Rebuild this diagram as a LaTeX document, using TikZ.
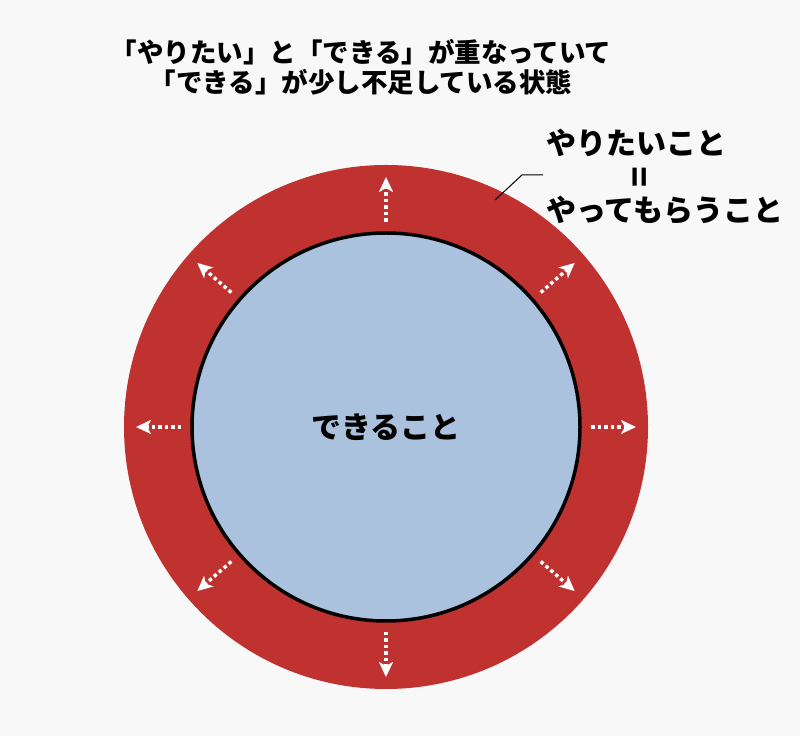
\documentclass[tikz,border=0pt]{standalone}
\usepackage{fontspec}
\setmainfont{Noto Sans CJK JP}
\usetikzlibrary{arrows.meta}
\definecolor{bgGray}{RGB}{248,248,248}
\definecolor{wantRed}{RGB}{192,50,48}
\definecolor{canBlue}{RGB}{170,194,222}
\tikzset{
	grow arrow/.style={white,line width=3.5pt,dash pattern=on 3.5pt off 3pt,
		-{Stealth[length=15pt,width=14pt,inset=4pt]}},
	label text/.style={font=\bfseries\fontsize{30}{33}\selectfont}
}
\begin{document}
\begin{tikzpicture}[x=1pt,y=1pt]
	\fill[bgGray] (0,0) rectangle (800,736);
	\useasboundingbox (0,0) rectangle (800,736);

	\path
	(386,309) coordinate (C)
	(495,536) coordinate (P1)
	(522,561) coordinate (P2)
	(543,561) coordinate (P3);

	\fill[wantRed] (C) circle (262);
	\filldraw[fill=canBlue,draw=black,line width=3.5pt] (C) circle (194);

	\foreach \a in {0,41,90,139,180,221,270,319}
		\draw[grow arrow] ([shift={(\a:205)}]C) -- ([shift={(\a:250)}]C);

	\node[label text] (can) at (C) {できること};

	\node[align=center,font=\bfseries\fontsize{26.5}{30}\selectfont] (title) at (361,669)
		{「やりたい」と「できる」が重なっていて\\「できる」が少し不足している状態};

	\node[label text,anchor=west,inner sep=0pt] (want) at (546,593) {やりたいこと};
	\node[font=\bfseries\fontsize{34}{34}\selectfont,rotate=90,inner sep=0pt] (eq) at (643,559) {=};
	\node[label text,anchor=west,inner sep=0pt] (ask) at (546,526) {やってもらうこと};

	\draw[line width=1pt] (P1) -- (P2) -- (P3);
\end{tikzpicture}
\end{document}
